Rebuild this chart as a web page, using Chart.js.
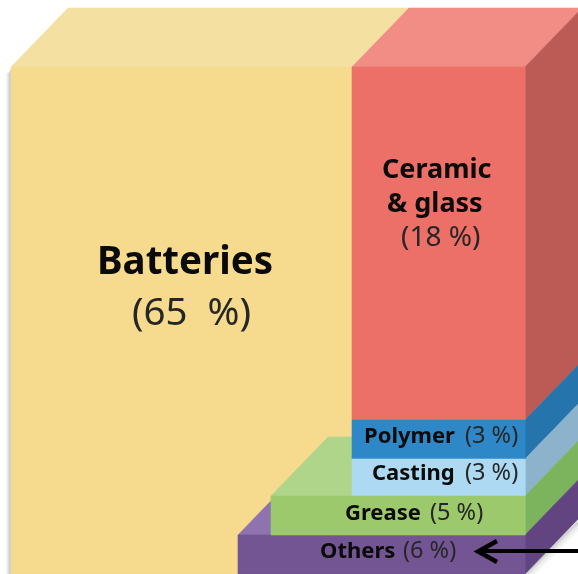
<!DOCTYPE html>
<html><head><meta charset="utf-8">
<style>html,body{margin:0;padding:0;background:#fff}canvas{display:block;filter:blur(0.5px)}</style>
<script src="https://cdn.jsdelivr.net/npm/chart.js@4/dist/chart.umd.min.js"></script>
</head><body><canvas id="c" width="578" height="574"></canvas>
<script>
// Categories and shares
const categories = ["Batteries", "Ceramic & glass", "Polymer", "Casting", "Grease", "Others"];
const shares = [65, 18, 3, 3, 5, 6];
// Box edges in axis units
const boxLeft   = [11, 352, 352, 352, 271, 238];
const boxRight  = [352, 525, 525, 525, 525, 525];
const boxTop    = [67, 67, 420, 459, 496, 535];
const boxBottom = [574, 420, 459, 496, 535, 574];
const depthX = 57, depthY = 59;
const frontColors = ["#F6DB8F", "#EC6F68", "#2E88C8", "#ADDAF2", "#9CC96B", "#735594"];
const topColors   = ["#F4E1A2", "#F18D85", "#2E88C8", "#ADDAF2", "#AED58A", "#8E73AE"];
const sideColors  = ["#F5DA8E", "#BC5B55", "#2574AB", "#8CB2CC", "#7CB35D", "#624580"];
const arrowShaft = [[482, 551], [578, 551]];
const arrowHead = [[497, 541], [478, 551.5], [497, 562]];

const datasets = [];
function poly(points, color, width) {
  datasets.push({ data: points.map(p => ({x: p[0], y: p[1]})), backgroundColor: color, borderColor: color,
    borderWidth: width === undefined ? 0.6 : width, fill: width === undefined ? 'shape' : false,
    pointRadius: 0, tension: 0, order: -datasets.length });
}
function box(i) { return [boxLeft[i], boxRight[i], boxTop[i], boxBottom[i]]; }
function front(i) { const [l,r,t,b] = box(i); poly([[l,t],[r,t],[r,b],[l,b],[l,t]], frontColors[i]); }
function topFace(i, rightEdge) { const [l,,t] = box(i); const r = rightEdge === undefined ? boxRight[i] : rightEdge;
  poly([[l,t],[r,t],[r+depthX*(rightEdge===undefined?1:0),t-depthY],[l+depthX,t-depthY],[l,t]], topColors[i]); }
function side(i) { const [,r,t,b] = box(i); poly([[r,t],[r+depthX,t-depthY],[r+depthX,b-depthY],[r,b],[r,t]], sideColors[i]); }

// Soft shadows round the block
[[10, "#F6F6F6"], [7, "#EDEDED"], [4, "#E0E0E0"], [2, "#D2D2D2"]].forEach(([d, c]) => {
  poly([[525,574+d],[578,521+d],[578,521],[525,574],[525,574+d]], c);
});
[[5, "#F5F6F8"], [3.5, "#E6E7EA"], [2, "#CCCED3"]].forEach(([d, c]) => {
  poly([[11-d,74],[11,70],[11,574],[11-d,574],[11-d,74]], c);
});
topFace(0); topFace(1);
[1,2,3,4,5].forEach(side);
front(0); front(1);
topFace(5, 352);
topFace(4, 352);
[2,3,5,4].forEach(front);
poly(arrowShaft, "#000", 4);
poly(arrowHead, "#000", 4.4);

// Text runs: [x, baseline, text, bold, size]
const labelRuns = [
  [97, 274, "Batteries", true, 38.5],
  [132, 325, "(65  %)", false, 38.5],
  [382, 178, "Ceramic", true, 27],
  [387, 212, "& glass", true, 27],
  [401, 246, "(18 %)", false, 28],
  [364, 443, "Polymer", true, 22],
  [465, 443, "(3 %)", false, 23.5],
  [372, 480, "Casting", true, 22],
  [465, 480, "(3 %)", false, 23.5],
  [345, 520, "Grease", true, 22],
  [430, 520, "(5 %)", false, 23.5],
  [320, 558, "Others", true, 22],
  [403, 558, "(6 %)", false, 23.5]
];
const textPlugin = {
  id: 'boxText',
  afterDatasetsDraw(chart) {
    const {ctx, scales: {x, y}} = chart;
    ctx.save();
    ctx.textAlign = 'left'; ctx.textBaseline = 'alphabetic';
    labelRuns.forEach(([px, py, s, bold, size]) => {
      ctx.font = (bold ? '700 ' : '400 ') + size + 'px "Noto Sans"';
      ctx.fillStyle = bold ? '#0A0A0A' : '#262626';
      ctx.fillText(s, x.getPixelForValue(px), y.getPixelForValue(py));
    });
    ctx.restore();
  }
};
new Chart(document.getElementById('c'), {
  type: 'line',
  data: { datasets },
  options: {
    responsive: false, animation: false, devicePixelRatio: 1,
    layout: { padding: 0 },
    plugins: { legend: { display: false }, tooltip: { enabled: false }, title: { display: false } },
    scales: {
      x: { type: 'linear', min: 0, max: 578, display: false },
      y: { type: 'linear', min: 0, max: 574, reverse: true, display: false }
    }
  },
  plugins: [textPlugin]
});
</script></body></html>
